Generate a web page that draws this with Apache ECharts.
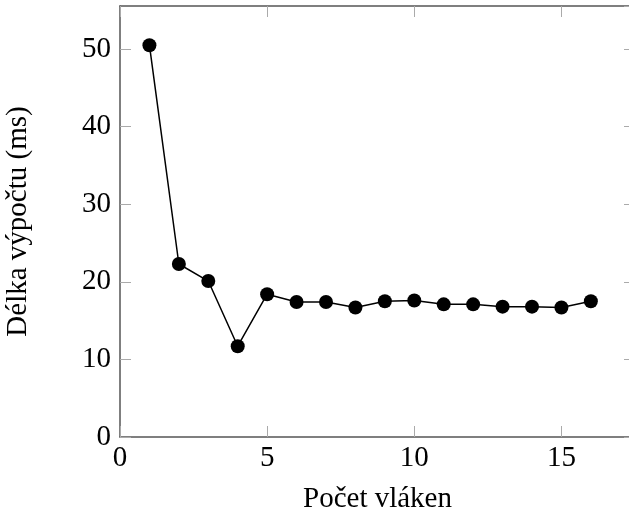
<!DOCTYPE html>
<html>
<head>
<meta charset="utf-8">
<script src="https://cdn.jsdelivr.net/npm/echarts@6/dist/echarts.min.js"></script>
<style>
  html, body { margin: 0; padding: 0; background: #fff; }
</style>
</head>
<body>
<div id="chart" style="width: 629px; height: 511px"></div>
<script>
const threads = [1, 2, 3, 4, 5, 6, 7, 8, 9, 10, 11, 12, 13, 14, 15, 16]
const durations = [50.5, 22.3, 20.1, 11.7, 18.4, 17.4, 17.4, 16.7, 17.5, 17.6, 17.1, 17.1, 16.8, 16.8, 16.7, 17.5]

const xTitle = 'Počet vláken'
const yTitle = 'Délka výpočtu (ms)'

const font = 'Liberation Serif'
const axisLine = { show: true, onZero: false, lineStyle: { color: '#555', width: 1.5 } }
const tick = { inside: true, length: 11, lineStyle: { color: '#aaa', width: 1 } }

const chart = echarts.init(document.getElementById('chart'))

chart.setOption({
  animation: false,
  grid: {
    left: 120,
    right: -6,
    top: 6,
    bottom: 74,
    containLabel: false,
    outerBoundsMode: 'none',
  },
  xAxis: [
    {
      type: 'value',
      min: 0,
      max: 17.5,
      interval: 5,
      name: xTitle,
      nameLocation: 'middle',
      nameGap: 48,
      nameTextStyle: { fontFamily: font, fontSize: 29, color: '#000' },
      axisLine: axisLine,
      axisTick: tick,
      splitLine: { show: false },
      axisLabel: {
        fontFamily: font,
        fontSize: 29,
        color: '#000',
        margin: 7,
        showMaxLabel: false,
      },
    },
    {
      type: 'value',
      position: 'top',
      min: 0,
      max: 17.5,
      interval: 5,
      axisLine: axisLine,
      axisTick: tick,
      splitLine: { show: false },
      axisLabel: { show: false },
    },
  ],
  yAxis: [
    {
      type: 'value',
      min: 0,
      max: 55.55,
      interval: 10,
      name: yTitle,
      nameLocation: 'middle',
      nameGap: 87,
      nameTextStyle: { fontFamily: font, fontSize: 29, color: '#000' },
      axisLine: axisLine,
      axisTick: tick,
      splitLine: { show: false },
      axisLabel: {
        fontFamily: font,
        fontSize: 29,
        color: '#000',
        margin: 9,
        showMaxLabel: false,
      },
    },
    {
      type: 'value',
      position: 'right',
      min: 0,
      max: 55.55,
      interval: 10,
      axisLine: { ...axisLine, show: false },
      axisTick: tick,
      splitLine: { show: false },
      axisLabel: { show: false },
    },
  ],
  series: [
    {
      type: 'line',
      data: threads.map((t, i) => [t, durations[i]]),
      symbol: 'circle',
      symbolSize: 14,
      itemStyle: { color: '#000' },
      lineStyle: { color: '#000', width: 1.5 },
    },
  ],
})
</script>
</body>
</html>
